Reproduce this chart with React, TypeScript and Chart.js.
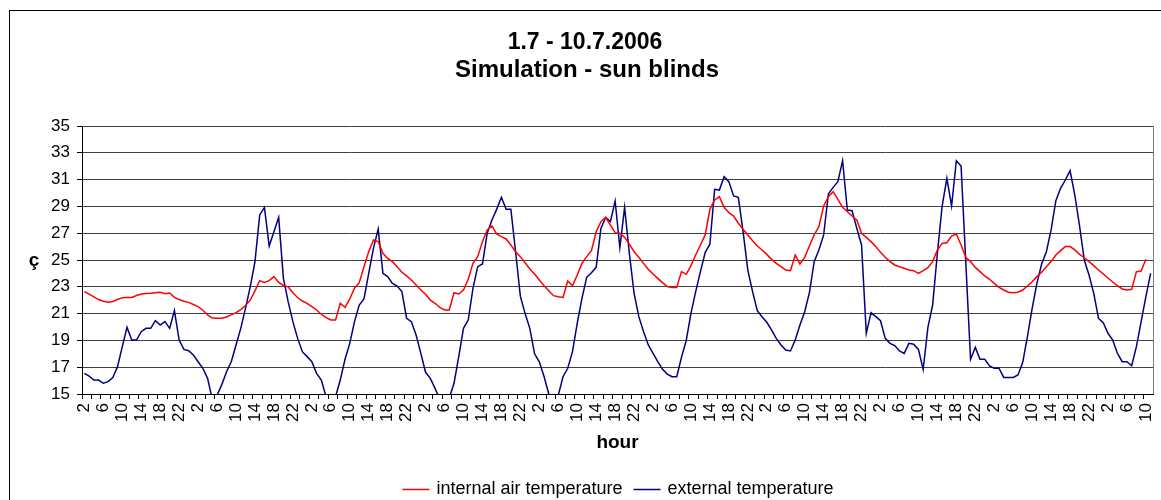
import React, { useEffect, useRef } from 'react';
import { Chart, registerables } from 'chart.js';

Chart.register(...registerables);

const TITLE_LINES = ['1.7 - 10.7.2006', 'Simulation - sun blinds'];
const X_TITLE = 'hour';
const Y_TITLE = 'ç';
const SERIES_NAMES = ['internal air temperature', 'external temperature'];
const Y_MIN = 15;
const Y_MAX = 35;
const Y_STEP = 2;
const START_HOUR = 2;
const POINT_COUNT = 226;
const LABEL_EVERY = 4;
const TICK_EVERY = 2;

// hour-of-day category labels (1.7 02:00 ... 10.7 11:00)
const hourLabels: string[] = Array.from({ length: POINT_COUNT }, (_, i) => String(((START_HOUR - 1 + i) % 24) + 1));

const internalTemp: number[] = [
  22.64, 22.45, 22.25, 22.05, 21.92, 21.84, 21.9, 22.05, 22.19, 22.2,
  22.2, 22.35, 22.46, 22.5, 22.51, 22.55, 22.59, 22.49, 22.54, 22.21,
  22.05, 21.92, 21.84, 21.68, 21.52, 21.25, 20.9, 20.67, 20.65, 20.65,
  20.75, 20.9, 21.07, 21.3, 21.6, 22.0, 22.7, 23.46, 23.33, 23.46,
  23.76, 23.33, 23.1, 23.0, 22.55, 22.2, 21.94, 21.77, 21.52, 21.27,
  20.95, 20.7, 20.52, 20.52, 21.77, 21.47, 22.09, 22.89, 23.31, 24.5,
  25.62, 26.49, 26.37, 25.5, 25.12, 24.88, 24.5, 24.08, 23.81, 23.51,
  23.13, 22.76, 22.44, 22.01, 21.77, 21.47, 21.27, 21.27, 22.56, 22.46,
  22.76, 23.56, 24.75, 25.25, 26.37, 27.24, 27.54, 26.94, 26.74, 26.57,
  26.12, 25.62, 25.25, 24.8, 24.33, 23.96, 23.51, 23.08, 22.71, 22.34,
  22.26, 22.21, 23.43, 23.08, 23.88, 24.75, 25.25, 25.7, 27.11, 27.86,
  28.18, 27.61, 27.04, 26.99, 26.69, 26.19, 25.62, 25.2, 24.75, 24.3,
  23.96, 23.63, 23.31, 23.01, 22.94, 22.94, 24.13, 23.93, 24.58, 25.37,
  26.12, 26.87, 28.78, 29.48, 29.73, 28.93, 28.53, 28.28, 27.74, 27.29,
  26.87, 26.44, 26.04, 25.75, 25.42, 25.05, 24.75, 24.5, 24.25, 24.2,
  25.37, 24.7, 25.2, 26.04, 26.87, 27.49, 29.03, 29.73, 30.1, 29.53,
  28.93, 28.6, 28.28, 27.99, 26.99, 26.69, 26.37, 26.0, 25.57, 25.2,
  24.88, 24.63, 24.5, 24.38, 24.25, 24.2, 24.0, 24.2, 24.43, 24.88,
  25.75, 26.24, 26.29, 26.79, 26.94, 26.12, 25.2, 24.88, 24.45, 24.13,
  23.81, 23.56, 23.26, 22.96, 22.76, 22.59, 22.56, 22.59, 22.76, 23.06,
  23.38, 23.76, 24.08, 24.5, 24.88, 25.37, 25.7, 26.0, 26.0, 25.75,
  25.42, 25.17, 24.88, 24.58, 24.25, 23.96, 23.66, 23.36, 23.08, 22.84,
  22.76, 22.81, 24.13, 24.18, 25.05,
];

const externalTemp: number[] = [
  16.54, 16.34, 16.04, 16.04, 15.8, 15.92, 16.22, 17.04, 18.53, 19.97,
  19.03, 19.03, 19.65, 19.9, 19.9, 20.47, 20.15, 20.4, 19.9, 21.22,
  19.03, 18.33, 18.23, 17.91, 17.41, 16.92, 16.17, 14.6, 14.9, 15.7,
  16.66, 17.41, 18.66, 19.9, 21.39, 23.0, 24.88, 28.36, 28.93, 26.04,
  27.11, 28.18, 23.63, 21.89, 20.4, 19.15, 18.16, 17.79, 17.41, 16.54,
  16.04, 14.8, 14.5, 14.8, 16.04, 17.59, 18.78, 20.4, 21.64, 22.09,
  24.0, 25.87, 27.31, 24.0, 23.76, 23.26, 23.06, 22.64, 20.65, 20.4,
  19.4, 18.03, 16.62, 16.17, 15.42, 14.6, 14.3, 14.7, 15.8, 17.79,
  19.9, 20.52, 22.89, 24.5, 24.7, 26.99, 27.99, 28.78, 29.68, 28.78,
  28.78, 25.6, 22.3, 21.0, 19.9, 18.0, 17.4, 16.3, 15.0, 14.5,
  14.9, 16.29, 16.92, 18.16, 20.27, 22.14, 23.71, 24.05, 24.45, 27.36,
  28.18, 27.86, 29.4, 25.92, 28.93, 25.5, 22.51, 20.77, 19.65, 18.66,
  18.03, 17.41, 16.84, 16.49, 16.29, 16.29, 17.74, 18.98, 21.02, 22.64,
  24.13, 25.55, 26.19, 30.27, 30.22, 31.22, 30.85, 29.78, 29.68, 27.11,
  24.25, 22.64, 21.22, 20.77, 20.35, 19.78, 19.15, 18.66, 18.28, 18.21,
  19.03, 20.15, 21.14, 22.56, 24.88, 25.75, 26.87, 29.93, 30.42, 30.85,
  32.41, 28.73, 28.68, 27.36, 26.12, 19.53, 21.07, 20.77, 20.47, 19.15,
  18.78, 18.61, 18.21, 18.03, 18.78, 18.71, 18.33, 16.84, 19.97, 21.64,
  25.5, 29.0, 31.1, 29.03, 32.41, 32.01, 24.8, 17.59, 18.48, 17.59,
  17.59, 17.09, 16.92, 16.92, 16.24, 16.24, 16.24, 16.42, 17.34, 19.28,
  21.39, 23.26, 24.7, 25.62, 27.24, 29.43, 30.35, 30.97, 31.67, 29.85,
  27.54, 25.0, 23.88, 22.51, 20.65, 20.32, 19.53, 19.03, 18.03, 17.41,
  17.41, 17.11, 18.53, 20.4, 22.26, 24.0,
];

const SERIES_COLORS = ['#FF0000', '#000080'];
const FONT_FAMILY = '"Liberation Sans", Arial, Helvetica, sans-serif';

const decorPlugin = {
  id: 'decor',
  afterDraw(chart: any) {
    const ctx = chart.ctx as CanvasRenderingContext2D;
    const a = chart.chartArea;
    ctx.save();
    // outer chart border
    ctx.strokeStyle = '#000';
    ctx.lineWidth = 1;
    ctx.strokeRect(9.5, 10.5, 1400, 800);
    // plot area right border
    ctx.strokeStyle = '#808080';
    const rx = Math.round(a.right) + 0.5;
    ctx.beginPath();
    ctx.moveTo(rx, a.top);
    ctx.lineTo(rx, a.bottom);
    ctx.stroke();

    ctx.fillStyle = '#000';
    ctx.textAlign = 'center';
    ctx.textBaseline = 'middle';
    ctx.font = `bold 23px ${FONT_FAMILY}`;
    ctx.fillText(TITLE_LINES[0], 585, 43);
    ctx.font = `bold 24px ${FONT_FAMILY}`;
    ctx.fillText(TITLE_LINES[1], 587, 70);

    ctx.font = `bold 19px ${FONT_FAMILY}`;
    ctx.fillText(X_TITLE, (a.left + a.right) / 2, 443);
    ctx.fillText(Y_TITLE, 34, 261);

    // legend
    ctx.font = `18px ${FONT_FAMILY}`;
    const lineW = 27;
    const gapText = 7;
    const gapItem = 11;
    const w0 = ctx.measureText(SERIES_NAMES[0]).width;
    const w1 = ctx.measureText(SERIES_NAMES[1]).width;
    const total = lineW + gapText + w0 + gapItem + lineW + gapText + w1;
    let x = 618 - total / 2;
    const ly = 489;
    ctx.textAlign = 'left';
    [w0, w1].forEach((w, k) => {
      ctx.strokeStyle = SERIES_COLORS[k];
      ctx.lineWidth = 1.5;
      ctx.beginPath();
      ctx.moveTo(x, ly + 0.5);
      ctx.lineTo(x + lineW, ly + 0.5);
      ctx.stroke();
      x += lineW + gapText;
      ctx.fillStyle = '#000';
      ctx.fillText(SERIES_NAMES[k], x, ly);
      x += w + gapItem;
    });
    ctx.restore();
  },
};

export default function App() {
  const canvasRef = useRef<HTMLCanvasElement | null>(null);

  useEffect(() => {
    const canvas = canvasRef.current;
    if (!canvas) return;
    const chart = new Chart(canvas, {
      type: 'line',
      data: {
        labels: hourLabels,
        datasets: [
          {
            label: SERIES_NAMES[0],
            data: internalTemp,
            borderColor: SERIES_COLORS[0],
            backgroundColor: SERIES_COLORS[0],
            borderWidth: 1.5,
            pointRadius: 0,
            tension: 0,
            fill: false,
            clip: 0,
          },
          {
            label: SERIES_NAMES[1],
            data: externalTemp,
            borderColor: SERIES_COLORS[1],
            backgroundColor: SERIES_COLORS[1],
            borderWidth: 1.5,
            pointRadius: 0,
            tension: 0,
            fill: false,
            clip: 0,
          },
        ],
      },
      options: {
        animation: false,
        responsive: false,
        maintainAspectRatio: false,
        events: [],
        layout: { padding: { left: 10, top: 126, right: 8, bottom: 0 } },
        plugins: {
          legend: { display: false },
          title: { display: false },
          tooltip: { enabled: false },
        },
        scales: {
          x: {
            type: 'category',
            offset: true,
            grid: {
              display: true,
              drawOnChartArea: false,
              drawTicks: true,
              tickLength: 5,
              offset: true,
              color: '#000',
              tickColor: (c: any) => (c.index % TICK_EVERY === 0 ? '#000' : 'rgba(0,0,0,0)'),
            },
            border: { display: true, color: '#000', width: 1 },
            ticks: {
              autoSkip: false,
              maxRotation: 90,
              minRotation: 90,
              padding: 4,
              color: '#000',
              font: { family: FONT_FAMILY, size: 17 },
              callback: function (this: any, val: any, idx: number) {
                return idx % LABEL_EVERY === 0 ? this.getLabelForValue(val) : '';
              },
            },
            afterFit: (s: any) => {
              s.height = 106;
              s.paddingLeft = 0;
              s.paddingRight = 0;
            },
          },
          y: {
            min: Y_MIN,
            max: Y_MAX,
            grid: { color: '#404040', lineWidth: 1, drawTicks: true, tickLength: 5, tickColor: '#000' },
            border: { display: true, color: '#000', width: 1 },
            ticks: {
              stepSize: Y_STEP,
              padding: 7,
              color: '#000',
              font: { family: FONT_FAMILY, size: 17 },
            },
            afterFit: (s: any) => {
              s.width = 72;
              s.paddingTop = 0;
              s.paddingBottom = 0;
            },
          },
        },
      },
      plugins: [decorPlugin],
    });
    return () => chart.destroy();
  }, []);

  return (
    <div style={{ position: 'absolute', left: 0, top: 0, width: 1161, height: 500, background: '#fff' }}>
      <canvas ref={canvasRef} width={1161} height={500} style={{ display: 'block', width: 1161, height: 500 }} />
    </div>
  );
}
